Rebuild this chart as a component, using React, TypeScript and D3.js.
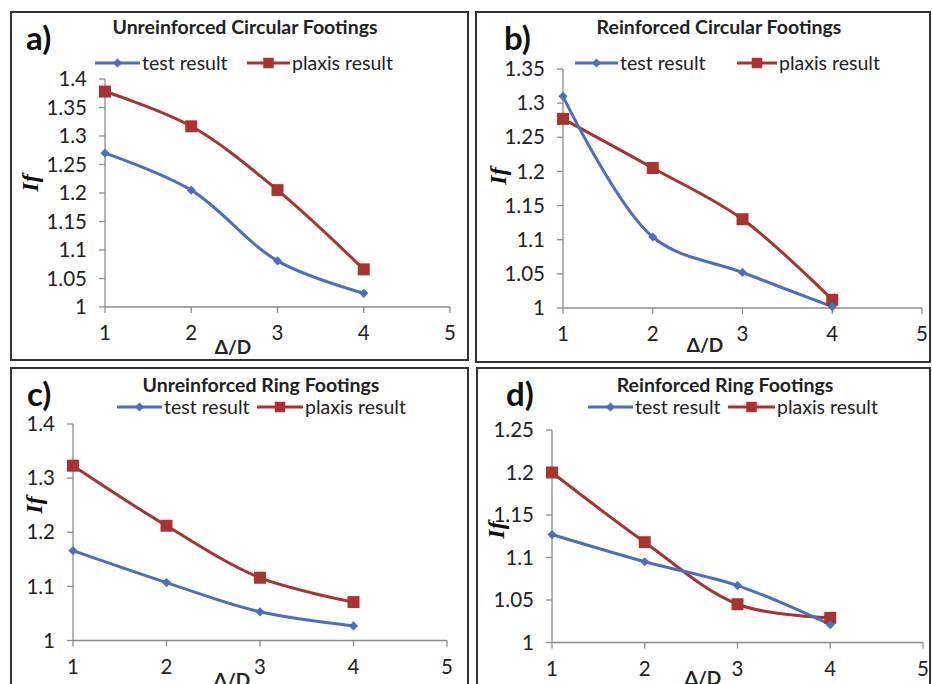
import React from "react";
import * as d3 from "d3";

const xValues = [1, 2, 3, 4];
const xTicks = [1, 2, 3, 4, 5];

const titles = [
  "Unreinforced Circular Footings",
  "Reinforced Circular Footings",
  "Unreinforced Ring Footings",
  "Reinforced Ring Footings",
];
const panelLetters = ["a)", "b)", "c)", "d)"];
const seriesNames = ["test result", "plaxis result"];

const testA = [1.27, 1.205, 1.081, 1.024];
const plaxisA = [1.378, 1.317, 1.205, 1.066];
const testB = [1.31, 1.104, 1.052, 1.002];
const plaxisB = [1.277, 1.205, 1.13, 1.012];
const testC = [1.166, 1.107, 1.053, 1.027];
const plaxisC = [1.323, 1.212, 1.116, 1.071];
const testD = [1.127, 1.095, 1.067, 1.021];
const plaxisD = [1.2, 1.118, 1.045, 1.029];

const yDomains: [number, number][] = [
  [1, 1.4],
  [1, 1.35],
  [1, 1.4],
  [1, 1.25],
];
const yStepsList = [0.05, 0.05, 0.1, 0.05];

const BLUE = "#4a6fc0";
const RED = "#a8332f";
const AXIS = "#8c8c8c";
const FONT = "Lato, 'Open Sans', sans-serif";

type Layout = {
  box: [number, number, number, number];
  x0: number; x1: number; y0: number; y1: number;
  title: [number, number];
  letter: [number, number];
  legendY: number;
  blueLine: [number, number];
  redLine: [number, number];
  ifPos: [number, number];
  dPos: [number, number];
};

const layouts: Layout[] = [
  {
    box: [11, 12, 468, 360], x0: 105, x1: 450, y0: 307, y1: 79,
    title: [245, 27], letter: [26, 38], legendY: 63,
    blueLine: [95, 140], redLine: [247, 290], ifPos: [30, 183], dPos: [233, 347],
  },
  {
    box: [476, 12, 930, 362], x0: 563, x1: 922, y0: 308, y1: 69,
    title: [719, 27], letter: [504, 38], legendY: 63,
    blueLine: [575, 618], redLine: [737, 777], ifPos: [498, 176], dPos: [705, 345],
  },
  {
    box: [11, 368, 468, 700], x0: 73, x1: 447, y0: 640.5, y1: 424,
    title: [261, 385], letter: [27, 394], legendY: 407,
    blueLine: [117, 162], redLine: [257, 303], ifPos: [34, 505], dPos: [232, 680],
  },
  {
    box: [477, 368, 930, 700], x0: 552, x1: 923, y0: 642.5, y1: 430,
    title: [725, 385], letter: [506, 394], legendY: 407,
    blueLine: [588, 633], redLine: [728, 775], ifPos: [496, 530], dPos: [703, 678],
  },
];

const testSeries = [testA, testB, testC, testD];
const plaxisSeries = [plaxisA, plaxisB, plaxisC, plaxisD];

const diamond = d3.symbol(d3.symbolSquare, 42)()!;
const square = d3.symbol(d3.symbolSquare, 144)()!;
const squareLegend = d3.symbol(d3.symbolSquare, 110)()!;

function Panel({ i }: { i: number }) {
  const L = layouts[i];
  const x = d3.scaleLinear().domain([1, 5]).range([L.x0, L.x1]);
  const y = d3.scaleLinear().domain(yDomains[i]).range([L.y0, L.y1]);
  const step = yStepsList[i];
  const [ymin, ymax] = yDomains[i];
  const n = Math.round((ymax - ymin) / step);
  const yTicks = d3.range(n + 1).map((k) => +(ymin + k * step).toFixed(2));
  const line = d3
    .line<number>()
    .x((_, k) => x(xValues[k]))
    .y((v) => y(v))
    .curve(d3.curveCatmullRom.alpha(0.5));
  const test = testSeries[i];
  const plaxis = plaxisSeries[i];
  const [bx0, by0, bx1, by1] = L.box;
  return (
    <g>
      <rect x={bx0} y={by0} width={bx1 - bx0} height={by1 - by0} fill="white" stroke="#333" strokeWidth={2} />
      <line x1={L.x0} x2={L.x0} y1={L.y0} y2={L.y1} stroke={AXIS} strokeWidth={1.3} />
      <line x1={L.x0} x2={L.x1} y1={L.y0} y2={L.y0} stroke={AXIS} strokeWidth={1.3} />
      {yTicks.map((t) => (
        <g key={"y" + t}>
          <line x1={L.x0 - 6} x2={L.x0} y1={y(t)} y2={y(t)} stroke={AXIS} strokeWidth={1.3} />
          <text x={L.x0 - 18} y={y(t)} dy="0.35em" textAnchor="end" fontFamily={FONT} fontSize={20.5} fill="#222">
            {String(t)}
          </text>
        </g>
      ))}
      {xTicks.map((t) => (
        <g key={"x" + t}>
          <line x1={x(t)} x2={x(t)} y1={L.y0} y2={L.y0 + 6} stroke={AXIS} strokeWidth={1.3} />
          <text x={x(t)} y={L.y0 + 26} dy="0.35em" textAnchor="middle" fontFamily={FONT} fontSize={20.5} fill="#222">
            {String(t)}
          </text>
        </g>
      ))}
      <path d={line(plaxis)!} fill="none" stroke={RED} strokeWidth={3} />
      <path d={line(test)!} fill="none" stroke={BLUE} strokeWidth={3} />
      {plaxis.map((v, k) => (
        <path key={"p" + k} d={square} transform={`translate(${x(xValues[k])},${y(v)})`} fill={RED} />
      ))}
      {test.map((v, k) => (
        <path key={"t" + k} d={diamond} transform={`translate(${x(xValues[k])},${y(v)}) rotate(45)`} fill={BLUE} />
      ))}
      <text x={L.title[0]} y={L.title[1]} dy="0.35em" textAnchor="middle" fontFamily={FONT} fontWeight="bold" fontSize={19.5} fill="#222">
        {titles[i]}
      </text>
      <text x={L.letter[0]} y={L.letter[1]} dy="0.35em" fontFamily={FONT} fontWeight="bold" fontSize={33} fill="#111">
        {panelLetters[i]}
      </text>
      <line x1={L.blueLine[0]} x2={L.blueLine[1]} y1={L.legendY} y2={L.legendY} stroke={BLUE} strokeWidth={3} />
      <path d={diamond} transform={`translate(${(L.blueLine[0] + L.blueLine[1]) / 2},${L.legendY}) rotate(45)`} fill={BLUE} />
      <text x={L.blueLine[1] + 2} y={L.legendY} dy="0.35em" fontFamily={FONT} fontSize={19.5} fill="#222">
        {seriesNames[0]}
      </text>
      <line x1={L.redLine[0]} x2={L.redLine[1]} y1={L.legendY} y2={L.legendY} stroke={RED} strokeWidth={3} />
      <path d={squareLegend} transform={`translate(${(L.redLine[0] + L.redLine[1]) / 2},${L.legendY})`} fill={RED} />
      <text x={L.redLine[1] + 2} y={L.legendY} dy="0.35em" fontFamily={FONT} fontSize={19.5} fill="#222">
        {seriesNames[1]}
      </text>
      <text
        transform={`translate(${L.ifPos[0]},${L.ifPos[1]}) rotate(-90)`}
        dy="0.35em"
        textAnchor="middle"
        fontFamily="'Liberation Serif', 'DejaVu Serif', serif"
        fontStyle="italic"
        fontWeight="bold"
        fontSize={24}
        fill="#111"
      >
        If
      </text>
      <text x={L.dPos[0]} y={L.dPos[1]} dy="0.35em" textAnchor="middle" fontFamily={FONT} fontWeight="bold" fontSize={19} fill="#222">
        Δ/D
      </text>
    </g>
  );
}

export default function App() {
  return (
    <svg
      width={932}
      height={684}
      style={{ position: "absolute", left: 0, top: 0, display: "block", background: "white" }}
    >
      <rect x={0} y={0} width={932} height={684} fill="white" />
      {[0, 1, 2, 3].map((i) => (
        <Panel key={i} i={i} />
      ))}
    </svg>
  );
}
